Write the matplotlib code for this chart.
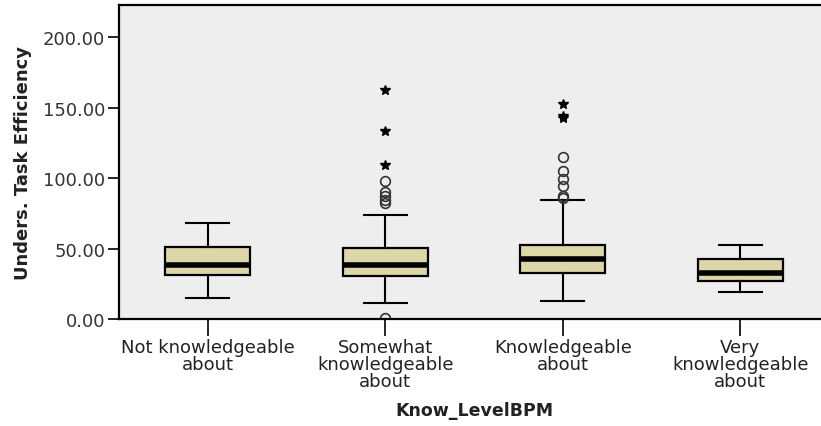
import matplotlib
matplotlib.use("Agg")
import matplotlib.pyplot as plt

categories = ["Not knowledgeable\nabout", "Somewhat\nknowledgeable\nabout",
              "Knowledgeable\nabout", "Very\nknowledgeable\nabout"]
q1 = [31.2, 30.3, 32.4, 27.2]
medians = [38.5, 38.5, 42.6, 32.4]
q3 = [51.3, 50.1, 52.7, 42.6]
whisker_low = [14.9, 11.1, 12.5, 18.9]
whisker_high = [67.8, 74.0, 84.2, 52.7]
outliers = [[], [1.0, 82.3, 84.5, 87.5, 89.8, 98.0], [85.6, 87.5, 94.1, 99.3, 105.2, 115.1], []]
extremes = [[], [109.4, 133.3, 162.4], [142.6, 143.8, 152.5], []]
y_ticks = [0, 50, 100, 150, 200]

stats = []
for i in range(len(categories)):
    stats.append({"q1": q1[i], "med": medians[i], "q3": q3[i],
                  "whislo": whisker_low[i], "whishi": whisker_high[i],
                  "fliers": outliers[i]})

fig = plt.figure(figsize=(8.21, 4.27), dpi=100)
# axes runs slightly past the right edge, like the original export
ax = fig.add_axes([119 / 821, 1 - 320 / 427, 710 / 821, 314 / 427])
ax.set_facecolor("#EEEEEE")

positions = [1, 2, 3, 4]
ax.bxp(stats, positions=positions, widths=0.48, patch_artist=True,
       boxprops=dict(facecolor="#DCD6A8", edgecolor="black", linewidth=1.6),
       medianprops=dict(color="black", linewidth=4),
       whiskerprops=dict(color="black", linewidth=1.5),
       capprops=dict(color="black", linewidth=1.5), capwidths=0.24,
       flierprops=dict(marker="o", markerfacecolor="none", markeredgecolor="#333333",
                       markersize=7, markeredgewidth=1.2))
for p, ex in zip(positions, extremes):
    if ex:
        ax.plot([p] * len(ex), ex, linestyle="none", marker="*", color="black", markersize=7)

ax.set_xlim(0.5, 4.5)
ax.set_ylim(0, 222.7)
ax.set_yticks(y_ticks)
ax.set_yticklabels([f"{v:.2f}" for v in y_ticks], fontsize=13, color="#333333")
ax.set_xticks(positions)
ax.set_xticklabels(categories, fontsize=13, linespacing=0.9, color="#222222")
ax.tick_params(axis="y", direction="out", length=8, width=1.2, pad=2)
ax.tick_params(axis="x", direction="out", length=12, width=1.2, pad=2)
for s in ax.spines.values():
    s.set_linewidth(1.6)

ax.set_ylabel("Unders. Task Efficiency", fontsize=13, fontweight="bold", color="#222222")
ax.yaxis.set_label_coords(-87 / 710, 0.5)
ax.set_xlabel("Know_LevelBPM", fontsize=12.5, fontweight="bold", color="#222222")
ax.xaxis.set_label_coords(0.5, -82 / 314)

fig.savefig("out.png", dpi=100)
